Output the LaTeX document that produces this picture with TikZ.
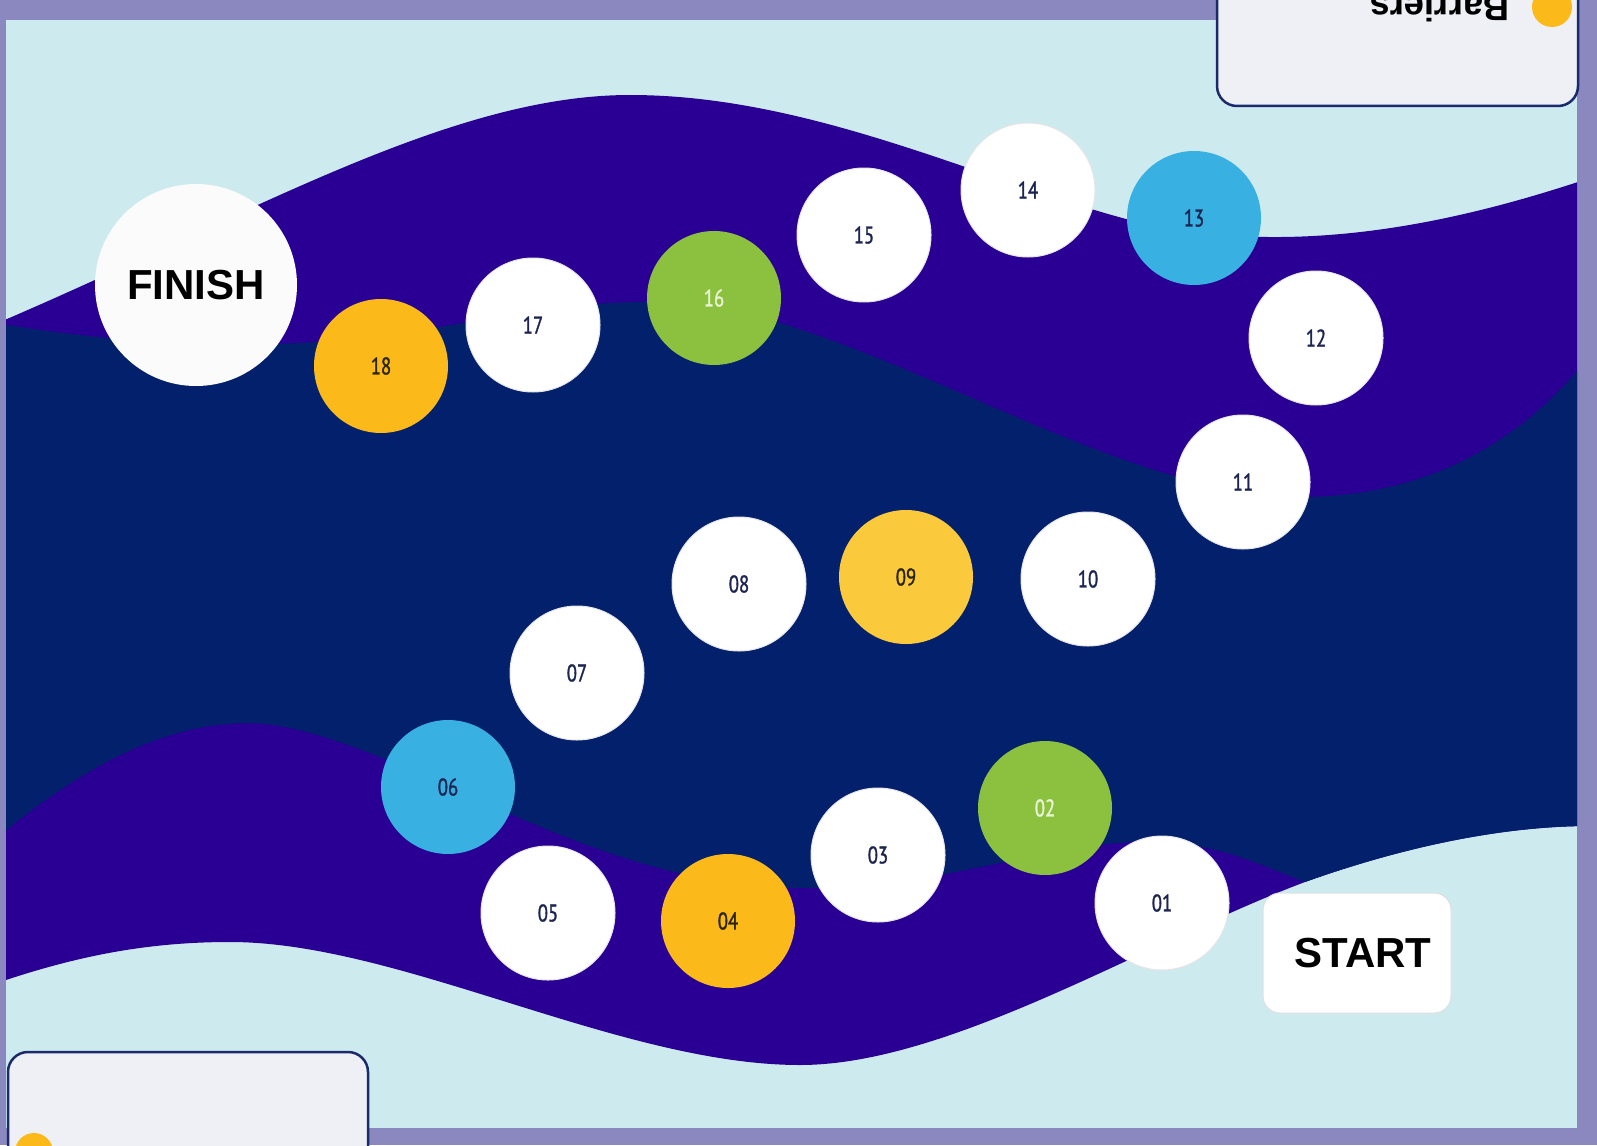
\documentclass[tikz,border=0pt]{standalone}
\usepackage{fontspec}
\setmainfont{Liberation Sans}
\newfontfamily\numfont[FakeStretch=0.78, FakeBold=1.2]{PT Sans}
\usetikzlibrary{positioning}
\definecolor{framecol}{HTML}{8B88C0}
\definecolor{seacol}{HTML}{CDEBEF}
\definecolor{bandcol}{HTML}{290093}
\definecolor{deepcol}{HTML}{02206C}
\definecolor{keyfill}{HTML}{EEF0F5}
\definecolor{keyline}{HTML}{1B2A6B}
\definecolor{orangecol}{HTML}{FBBA1A}
\definecolor{yellowcol}{HTML}{FAC93C}
\definecolor{greencol}{HTML}{8CC03F}
\definecolor{bluecol}{HTML}{38B0E2}
\definecolor{numnavy}{HTML}{1C2452}
\definecolor{numbrown}{HTML}{2B2508}
\definecolor{numlight}{HTML}{E8F4D4}

\begin{document}
\begin{tikzpicture}[x=1pt, y=-1pt]
    \tikzset{
        spot/.style={circle, minimum size=134pt, inner sep=0pt, font=\numfont\fontsize{24}{24}\selectfont, text=numnavy},
        whitespot/.style={spot, fill=white, draw=gray!20, line width=1pt},
        orangespot/.style={spot, fill=orangecol, text=numbrown},
        yellowspot/.style={spot, fill=yellowcol, text=numbrown},
        greenspot/.style={spot, fill=greencol, text=numlight},
        bluespot/.style={spot, fill=bluecol},
        finishspot/.style={circle, fill=white!97!gray, minimum size=202pt, inner sep=0pt, font=\bfseries\fontsize{42}{42}\selectfont},
        startbox/.style={rectangle, fill=white, draw=gray!25, line width=1pt, rounded corners=17pt, minimum width=188pt, minimum height=120pt},
        bigword/.style={inner sep=0pt, font=\bfseries\fontsize{42}{42}\selectfont},
        keybox/.style={fill=keyfill, draw=keyline, line width=2.5pt, rounded corners=20pt},
        keydot/.style={fill=orangecol}
    }
    \useasboundingbox (0,0) rectangle (1597,1145);
    \fill[framecol] (0,0) rectangle (1597,1145);
    \fill[seacol] (6,20) rectangle (1577,1128);

    % waves
    \begin{scope}
        \clip (6,20) rectangle (1577,1128);
        \fill[bandcol] (0,322) .. controls (250,215) and (450,95) .. (630,95)
            .. controls (820,95) and (1000,190) .. (1150,225)
            .. controls (1300,255) and (1450,225) .. (1590,178)
            -- (1590,826) .. controls (1500,826) and (1400,848) .. (1305,882)
            .. controls (1150,940) and (950,1065) .. (800,1065)
            .. controls (620,1065) and (400,942) .. (230,942)
            .. controls (150,942) and (80,955) .. (0,982) -- cycle;
        \fill[deepcol] (0,324) .. controls (100,340) and (200,348) .. (300,343)
            .. controls (450,335) and (530,300) .. (660,302)
            .. controls (850,305) and (1100,495) .. (1300,497)
            .. controls (1450,497) and (1540,420) .. (1590,355)
            -- (1590,826) .. controls (1500,826) and (1400,848) .. (1305,882)
            .. controls (1260,865) and (1220,843) .. (1150,842)
            .. controls (1050,840) and (950,888) .. (800,888)
            .. controls (580,888) and (390,728) .. (250,723)
            .. controls (160,723) and (80,770) .. (0,835) -- cycle;
    \end{scope}

    \node [finishspot] (finish) at (196,285) {FINISH};
    \node [orangespot] (s18) at (381,366) {18};
    \node [whitespot] (s17) at (533,325) {17};
    \node [greenspot] (s16) at (714,298) {16};
    \node [whitespot] (s15) at (864,235) {15};
    \node [whitespot] (s14) at (1028,190) {14};
    \node [bluespot] (s13) at (1194,218) {13};
    \node [whitespot] (s12) at (1316,338) {12};
    \node [whitespot] (s11) at (1243,482) {11};
    \node [whitespot] (s10) at (1088,579) {10};
    \node [yellowspot] (s09) at (906,577) {09};
    \node [whitespot] (s08) at (739,584) {08};
    \node [whitespot] (s07) at (577,673) {07};
    \node [bluespot] (s06) at (448,787) {06};
    \node [whitespot] (s05) at (548,913) {05};
    \node [orangespot] (s04) at (728,921) {04};
    \node [whitespot] (s03) at (878,855) {03};
    \node [greenspot] (s02) at (1045,808) {02};
    \node [whitespot] (s01) at (1162,903) {01};
    \node [startbox] (start) at (1357,953) {};
    \node [bigword] (startlabel) at ([xshift=6pt]start.center) {START};

    % legend boxes
    \begin{scope}
        \clip (0,0) rectangle (1597,1145);
        \draw[keybox] (1217,-40) rectangle (1578,106);
        \fill[keydot] (1552,7) circle (20pt);
        \node [rotate=180, anchor=base west, inner sep=0pt, font=\bfseries\fontsize{36.5}{36.5}\selectfont] (barriers) at (1510,-4) {Barriers};
        \draw[keybox] (8,1052) rectangle (368,1190);
        \fill[keydot] (34,1152) circle (19pt);
    \end{scope}
\end{tikzpicture}
\end{document}
